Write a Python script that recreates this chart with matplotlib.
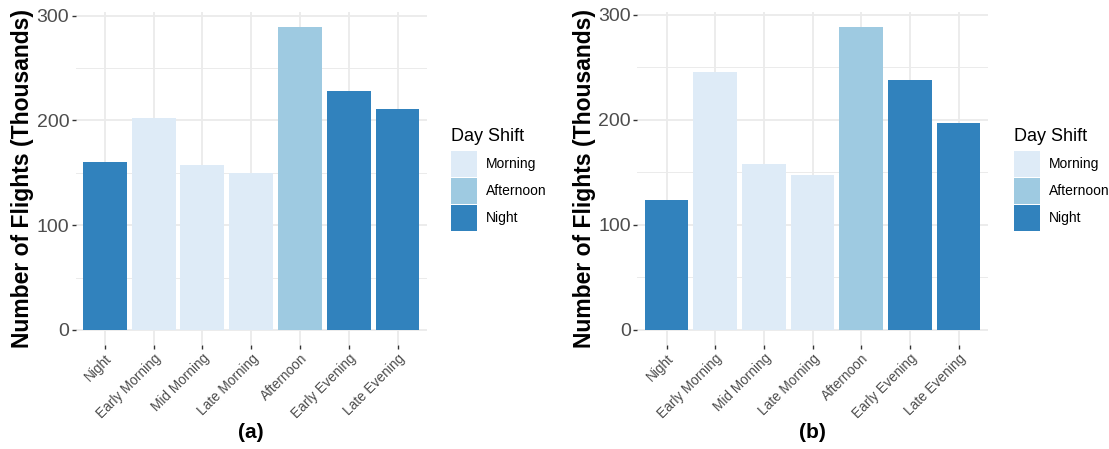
import matplotlib
matplotlib.use('Agg')
from matplotlib import pyplot as plt
from matplotlib.patches import Patch

plt.rcParams['font.family'] = ['Liberation Sans', 'DejaVu Sans']

# data
periods = ['Night', 'Early Morning', 'Mid Morning', 'Late Morning',
           'Afternoon', 'Early Evening', 'Late Evening']
period_shift = ['Night', 'Morning', 'Morning', 'Morning',
                'Afternoon', 'Night', 'Night']
flights_a = [160.6, 201.9, 157.1, 150.2, 288.9, 228.3, 211.1]
flights_b = [123.9, 245.5, 157.7, 147.3, 288.3, 237.6, 197.0]
shifts = ['Morning', 'Afternoon', 'Night']
shift_colors = {'Morning': '#DEEBF7', 'Afternoon': '#9ECAE1', 'Night': '#3182BD'}
y_ticks = [0, 100, 200, 300]
y_minor = [50, 150, 250]

GRID = '#EBEBEB'


def draw_panel(fig, rect, values, tag, legend_x):
	ax = fig.add_axes(rect)
	x = range(len(periods))
	cols = [shift_colors[s] for s in period_shift]
	ax.bar(x, values, width=0.9, color=cols, zorder=3)

	# ggplot style expansion
	top = max(values)
	ax.set_ylim(-0.05 * top, 1.05 * top)
	ax.set_xlim(-0.6, len(periods) - 0.4)

	for v in y_ticks:
		ax.axhline(v, color=GRID, linewidth=1.3, zorder=1)
	for v in y_minor:
		ax.axhline(v, color=GRID, linewidth=0.7, zorder=1)
	for xi in x:
		ax.axvline(xi, color=GRID, linewidth=1.3, zorder=1)

	for s in ax.spines.values():
		s.set_visible(False)
	ax.set_yticks(y_ticks)
	ax.set_yticklabels([str(v) for v in y_ticks], fontsize=14, color='#4D4D4D')
	ax.set_xticks(list(x))
	ax.set_xticklabels(periods, fontsize=9.8, color='#4D4D4D', rotation=45,
		ha='right', va='top', rotation_mode='anchor')
	ax.tick_params(axis='both', length=3, width=1, color='#333333', pad=1.5)

	ax.set_ylabel('Number of Flights (Thousands)', fontsize=16.5, fontweight='bold')
	ax.yaxis.set_label_coords(-0.118, 0.5)
	ax.set_xlabel(tag, fontsize=15, fontweight='bold')
	ax.xaxis.set_label_coords(0.5, -0.235)

	fig.text(legend_x, 1 - 141 / 449., 'Day Shift', fontsize=13, va='baseline')
	handles = [Patch(facecolor=shift_colors[s], edgecolor='none', label=s) for s in shifts]
	fig.legend(handles=handles, loc='upper left', bbox_to_anchor=(legend_x, 1 - 151 / 449.),
		frameon=False, fontsize=10, handlelength=1.87, handleheight=2.5,
		labelspacing=0.07, handletextpad=0.65, borderpad=0, borderaxespad=0)
	return ax


fig = plt.figure(figsize=(11.09, 4.49), dpi=100)
bottom = 1 - 345.1 / 449.
height = (345.1 - 12.0) / 449.
draw_panel(fig, [75.5 / 1109., bottom, 351.3 / 1109., height], flights_a, '(a)', 450.7 / 1109.)
draw_panel(fig, [637.3 / 1109., bottom, 350.5 / 1109., height], flights_b, '(b)', 1013.7 / 1109.)

fig.savefig('out.png', dpi=100)
